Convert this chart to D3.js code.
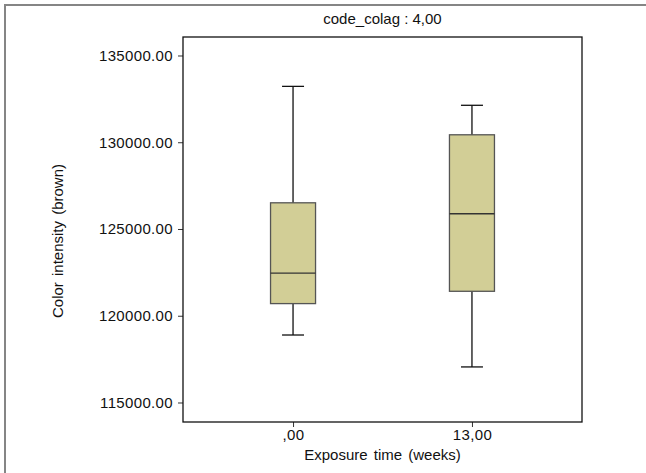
<!DOCTYPE html>
<html>
<head>
<meta charset="utf-8">
<script src="https://cdn.jsdelivr.net/npm/d3@7"></script>
<style>
  body { margin: 0; background: #fff; }
  text { font-family: Arial, "Liberation Sans", sans-serif; fill: #111; }
</style>
</head>
<body>
<div id="chart"></div>
<script>
// data
var groups = [",00", "13,00"];
var whiskerLow  = [118890, 117050];
var quartile1   = [120700, 121410];
var medians     = [122460, 125880];
var quartile3   = [126510, 130430];
var whiskerHigh = [133220, 132130];
var yTicks = [115000, 120000, 125000, 130000, 135000];

var width = 646, height = 473;
var plot = {left: 183, top: 37, right: 582, bottom: 422};

var svg = d3.select('#chart').append('svg')
            .attr('width', width)
            .attr('height', height);

svg.append('rect').attr('width', width).attr('height', height).attr('fill', '#fff');

// outer grey frame (only top and left visible)
svg.append('path')
   .attr('d', 'M5,' + height + 'V5H' + width)
   .attr('fill', 'none')
   .attr('stroke', '#858585')
   .attr('stroke-width', 2);

var y = d3.scaleLinear()
          .domain([113876, 136066])
          .range([plot.bottom, plot.top]);

var x = d3.scalePoint()
          .domain(groups)
          .range([plot.left, plot.right])
          .padding(0.615);

// axes
var yAxis = d3.axisLeft(y).tickValues(yTicks).tickFormat(d3.format('.2f')).tickSize(5).tickSizeOuter(0);
var gy = svg.append('g').attr('transform', 'translate(' + plot.left + ',0)').call(yAxis);
gy.select('.domain').remove();
gy.selectAll('text').attr('x', -10).style('font-size', '15px').style('letter-spacing', '0.35px')
  .style('font-family', 'Arial, "Liberation Sans", sans-serif').attr('fill', '#111');
gy.selectAll('line').attr('stroke', '#333');

var xAxis = d3.axisBottom(x).tickSize(5).tickSizeOuter(0);
var gx = svg.append('g').attr('transform', 'translate(0,' + plot.bottom + ')').call(xAxis);
gx.select('.domain').remove();
gx.selectAll('text').attr('y', 7).style('font-size', '15px').style('letter-spacing', '0.35px')
  .style('font-family', 'Arial, "Liberation Sans", sans-serif').attr('fill', '#111');
gx.selectAll('line').attr('stroke', '#333');

// plot frame
svg.append('rect')
   .attr('x', plot.left).attr('y', plot.top)
   .attr('width', plot.right - plot.left).attr('height', plot.bottom - plot.top)
   .attr('fill', 'none').attr('stroke', '#111').attr('stroke-width', 1.3);

// boxes
var boxW = 45, capW = 22;
var boxes = svg.append('g').selectAll('g')
   .data(groups.map(function(g, i) {
      return {g: g, lo: whiskerLow[i], q1: quartile1[i], med: medians[i], q3: quartile3[i], hi: whiskerHigh[i]};
   }))
   .enter().append('g');

boxes.append('line')
   .attr('x1', d => x(d.g)).attr('x2', d => x(d.g))
   .attr('y1', d => y(d.hi)).attr('y2', d => y(d.lo))
   .attr('stroke', '#111').attr('stroke-width', 1.3);
boxes.append('line')
   .attr('x1', d => x(d.g) - capW / 2).attr('x2', d => x(d.g) + capW / 2)
   .attr('y1', d => y(d.hi)).attr('y2', d => y(d.hi))
   .attr('stroke', '#111').attr('stroke-width', 1.3);
boxes.append('line')
   .attr('x1', d => x(d.g) - capW / 2).attr('x2', d => x(d.g) + capW / 2)
   .attr('y1', d => y(d.lo)).attr('y2', d => y(d.lo))
   .attr('stroke', '#111').attr('stroke-width', 1.3);
boxes.append('rect')
   .attr('x', d => x(d.g) - boxW / 2).attr('width', boxW)
   .attr('y', d => y(d.q3)).attr('height', d => y(d.q1) - y(d.q3))
   .attr('fill', '#d2ce96').attr('stroke', '#555').attr('stroke-width', 1.3);
boxes.append('line')
   .attr('x1', d => x(d.g) - boxW / 2).attr('x2', d => x(d.g) + boxW / 2)
   .attr('y1', d => y(d.med)).attr('y2', d => y(d.med))
   .attr('stroke', '#333').attr('stroke-width', 1.3);

// titles
var cx = (plot.left + plot.right) / 2;
svg.append('text').attr('x', cx).attr('y', 24).attr('text-anchor', 'middle')
   .style('font-size', '15px').text('code_colag : 4,00');
svg.append('text').attr('x', cx).attr('y', 460).attr('text-anchor', 'middle')
   .style('font-size', '15px').style('word-spacing', '2px').text('Exposure time (weeks)');
svg.append('text').attr('transform', 'translate(63,241) rotate(-90)')
   .attr('text-anchor', 'middle')
   .style('font-size', '15px').style('word-spacing', '2px').text('Color intensity (brown)');
</script>
</body>
</html>
